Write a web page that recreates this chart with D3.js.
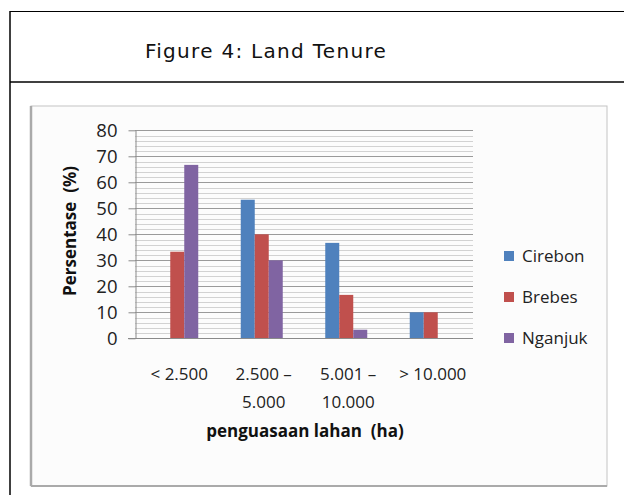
<!DOCTYPE html>
<html>
<head>
<meta charset="utf-8">
<title>Land Tenure</title>
<script src="https://cdn.jsdelivr.net/npm/d3@7"></script>
<style type="text/css">
    body{ margin: 0; background: #fff; }
    svg{ display: block; }
    .title{ font-family: "DejaVu Sans", sans-serif; font-size: 20px; fill: #111; letter-spacing: 1.3px; }
    .tick text{ font-family: "Open Sans", "Noto Sans", sans-serif; font-size: 18.5px; fill: #222; }
    .lbl{ font-family: "Open Sans", "Noto Sans", sans-serif; font-size: 17px; fill: #222; white-space: pre; }
    .axtitle{ font-family: "Open Sans", "Noto Sans", sans-serif; font-size: 17px; font-weight: bold; fill: #111; white-space: pre; }
</style>
</head>
<body>
<div id="chart"></div>
<script>
    // data
    var categories = [["< 2.500"], ["2.500 \u2013", "5.000"], ["5.001 \u2013", "10.000"], ["> 10.000"]];
    var seriesNames = ["Cirebon", "Brebes", "Nganjuk"];
    var cirebon = [0, 53.3, 36.7, 10];
    var brebes = [33.3, 40, 16.7, 10];
    var nganjuk = [66.7, 30, 3.3, 0];
    var yTicks = [0, 10, 20, 30, 40, 50, 60, 70, 80];
    var colors = ["#4F81BD", "#C0504D", "#8064A2"];

    var series = [cirebon, brebes, nganjuk];
    var width = 624, height = 495;

    var svg = d3.select("#chart").append("svg")
        .attr("width", width)
        .attr("height", height);

    // outer table
    svg.append("line").attr("x1", 10).attr("x2", 10).attr("y1", 11).attr("y2", height)
        .attr("stroke", "#000").attr("stroke-width", 1.5);
    svg.append("line").attr("x1", 10).attr("x2", width).attr("y1", 11.5).attr("y2", 11.5)
        .attr("stroke", "#000").attr("stroke-width", 1.2);
    svg.append("line").attr("x1", 10).attr("x2", width).attr("y1", 82).attr("y2", 82)
        .attr("stroke", "#000").attr("stroke-width", 1.6);
    svg.append("text").attr("class", "title")
        .attr("x", 266).attr("y", 58)
        .attr("text-anchor", "middle")
        .text("Figure 4: Land Tenure");

    // chart picture frame
    svg.append("rect").attr("x", 31).attr("y", 106).attr("width", 576).attr("height", 380)
        .attr("fill", "#fcfcfc").attr("stroke", "#c4c4c4").attr("stroke-width", 1);
    svg.append("line").attr("x1", 31).attr("x2", 31).attr("y1", 106).attr("y2", 486)
        .attr("stroke", "#aaa").attr("stroke-width", 2.5);
    svg.append("line").attr("x1", 31).attr("x2", 607).attr("y1", 486).attr("y2", 486)
        .attr("stroke", "#aaa").attr("stroke-width", 2);

    var plot = { left: 135, right: 473, top: 130.3, bottom: 338.3 };

    var x = d3.scaleBand().domain(d3.range(categories.length))
        .range([plot.left, plot.right]).paddingInner(0).paddingOuter(0);
    var x1 = d3.scaleBand().domain(d3.range(series.length))
        .range([0, 42]);
    var y = d3.scaleLinear().domain([0, 80]).range([plot.bottom, plot.top]);

    // minor grid every 2
    var g = svg.append("g");
    g.selectAll("line.minor")
        .data(d3.range(2, 81, 2).filter(function (v) { return v % 10 !== 0; }))
        .enter().append("line")
        .attr("class", "minor")
        .attr("x1", plot.left).attr("x2", plot.right)
        .attr("y1", function (d) { return Math.round(y(d)) + 0.5; })
        .attr("y2", function (d) { return Math.round(y(d)) + 0.5; })
        .attr("stroke", "#d2d2d2").attr("stroke-width", 1);
    g.selectAll("line.major")
        .data(yTicks.slice(1))
        .enter().append("line")
        .attr("class", "major")
        .attr("x1", plot.left).attr("x2", plot.right)
        .attr("y1", function (d) { return Math.round(y(d)) + 0.5; })
        .attr("y2", function (d) { return Math.round(y(d)) + 0.5; })
        .attr("stroke", "#9a9a9a").attr("stroke-width", 1);

    // bars
    series.forEach(function (vals, si) {
        svg.append("g").selectAll("rect")
            .data(vals)
            .enter().append("rect")
            .attr("x", function (d, i) { return x(i) + x.bandwidth() / 2 - 21 + x1(si); })
            .attr("width", x1.bandwidth())
            .attr("y", function (d) { return y(d); })
            .attr("height", function (d) { return y(0) - y(d); })
            .attr("fill", colors[si]);
    });

    // y axis
    var yAxis = d3.axisLeft(y).tickValues(yTicks).tickSize(7).tickPadding(6).tickSizeOuter(0);
    var ya = svg.append("g").attr("transform", "translate(" + (plot.left + 0.5) + ",0)").call(yAxis);
    ya.select(".domain").attr("stroke", "#8a8a8a");
    ya.selectAll(".tick line").attr("stroke", "#8a8a8a");
    ya.selectAll(".tick text").attr("x", -18).attr("dy", "0.36em");

    // x axis baseline
    svg.append("line").attr("x1", plot.left - 7).attr("x2", plot.right)
        .attr("y1", Math.round(y(0)) + 0.5).attr("y2", Math.round(y(0)) + 0.5)
        .attr("stroke", "#8a8a8a");

    // category labels
    var cl = svg.append("g").selectAll("text")
        .data(categories)
        .enter().append("text")
        .attr("class", "lbl")
        .attr("text-anchor", "middle")
        .attr("x", function (d, i) { return x(i) + x.bandwidth() / 2 + 2; })
        .attr("y", 380);
    cl.selectAll("tspan")
        .data(function (d) { return d; })
        .enter().append("tspan")
        .attr("x", function () { return d3.select(this.parentNode).attr("x"); })
        .attr("dy", function (d, i) { return i === 0 ? 0 : 28; })
        .text(function (d) { return d; });

    // axis titles
    svg.append("text").attr("class", "axtitle")
        .attr("text-anchor", "middle")
        .attr("transform", "translate(76,231) rotate(-90)")
        .text("Persentase  (%)");
    svg.append("text").attr("class", "axtitle")
        .attr("text-anchor", "middle")
        .attr("x", 305).attr("y", 437)
        .text("penguasaan lahan  (ha)");

    // legend
    var lg = svg.append("g").selectAll("g")
        .data(seriesNames)
        .enter().append("g")
        .attr("transform", function (d, i) { return "translate(504," + (256 + i * 41) + ")"; });
    lg.append("rect").attr("x", 0).attr("y", -5).attr("width", 10).attr("height", 10)
        .attr("fill", function (d, i) { return colors[i]; });
    lg.append("text").attr("class", "lbl")
        .attr("x", 18).attr("y", 6)
        .text(function (d) { return d; });
</script>
</body>
</html>
